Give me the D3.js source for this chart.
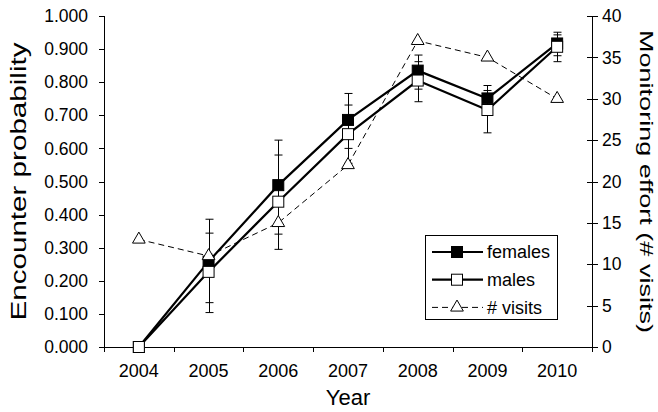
<!DOCTYPE html>
<html>
<head>
<meta charset="utf-8">
<script src="https://cdn.jsdelivr.net/npm/d3@7"></script>
<style>
  body { margin: 0; background: #fff; }
  svg { display: block; font-family: Arial, 'Liberation Sans', sans-serif; }
</style>
</head>
<body>
<svg id="chart" width="658" height="412"></svg>
<script>
// data
const years = ['2004', '2005', '2006', '2007', '2008', '2009', '2010']
const females = [0, 0.258, 0.489, 0.686, 0.835, 0.751, 0.917]
const femalesHi = [0, 0.386, 0.625, 0.766, 0.882, 0.790, 0.951]
const femalesLo = [0, 0.134, 0.341, 0.600, 0.779, 0.710, 0.880]
const males = [0, 0.227, 0.439, 0.643, 0.805, 0.716, 0.907]
const malesHi = [0, 0.344, 0.580, 0.731, 0.862, 0.775, 0.943]
const malesLo = [0, 0.104, 0.295, 0.555, 0.741, 0.647, 0.862]
const visits = [13, 11, 15, 22, 37, 35, 30]
const leftTicks = [0, 0.1, 0.2, 0.3, 0.4, 0.5, 0.6, 0.7, 0.8, 0.9, 1.0]
const rightTicks = [0, 5, 10, 15, 20, 25, 30, 35, 40]

const margin = { top: 16, right: 66, bottom: 65, left: 104 }
const width = 658
const height = 412

const svg = d3.select('#chart')

const x = d3.scaleBand().domain(years).range([margin.left, width - margin.right]).padding(0)
const cx = d => x(d) + x.bandwidth() / 2
const y = d3.scaleLinear().domain([0, 1]).range([height - margin.bottom, margin.top])
const y2 = d3.scaleLinear().domain([0, 40]).range([height - margin.bottom, margin.top])

const x0 = margin.left
const x1 = width - margin.right
const yb = height - margin.bottom

// axes
const axes = svg.append('g').attr('stroke', '#000').attr('stroke-width', 1)
axes.append('line').attr('x1', x0 + 0.5).attr('x2', x0 + 0.5).attr('y1', y(1)).attr('y2', yb)
axes.append('line').attr('x1', x1 + 0.5).attr('x2', x1 + 0.5).attr('y1', y2(40)).attr('y2', yb)
axes.append('line').attr('x1', x0).attr('x2', x1 + 1).attr('y1', yb + 0.5).attr('y2', yb + 0.5)

leftTicks.forEach(t => {
  axes.append('line').attr('x1', x0 - 5).attr('x2', x0).attr('y1', Math.round(y(t)) + 0.5).attr('y2', Math.round(y(t)) + 0.5)
})
rightTicks.forEach(t => {
  axes.append('line').attr('x1', x1 - 5).attr('x2', x1 + 6).attr('y1', Math.round(y2(t)) + 0.5).attr('y2', Math.round(y2(t)) + 0.5)
})
years.forEach(yr => {
  const xx = Math.round(x(yr)) + 0.5
  axes.append('line').attr('x1', xx).attr('x2', xx).attr('y1', yb).attr('y2', yb + 5)
})
axes.append('line').attr('x1', x1 + 0.5).attr('x2', x1 + 0.5).attr('y1', yb).attr('y2', yb + 5)

const labels = svg.append('g').attr('font-size', 17.5).attr('fill', '#000')
leftTicks.forEach(t => {
  labels.append('text').attr('x', x0 - 16).attr('y', y(t)).attr('dy', '0.35em')
    .attr('text-anchor', 'end').text(d3.format('.3f')(t))
})
rightTicks.forEach(t => {
  labels.append('text').attr('x', x1 + 10).attr('y', y2(t)).attr('dy', '0.35em')
    .attr('text-anchor', 'start').text(t)
})
years.forEach(yr => {
  labels.append('text').attr('x', cx(yr)).attr('y', yb + 30).attr('font-size', 18)
    .attr('text-anchor', 'middle').text(yr)
})

svg.append('text').attr('x', (x0 + x1) / 2).attr('y', 405).attr('text-anchor', 'middle')
  .attr('font-size', 22).text('Year')
svg.append('text').attr('transform', `translate(26,${(y(0) + y(1)) / 2}) rotate(-90)`)
  .attr('text-anchor', 'middle').attr('font-size', 22.5)
  .attr('textLength', 278).attr('lengthAdjust', 'spacingAndGlyphs').text('Encounter probability')
svg.append('text').attr('transform', `translate(640,${(y(0) + y(1)) / 2}) rotate(90)`)
  .attr('text-anchor', 'middle').attr('font-size', 19)
  .attr('textLength', 303).attr('lengthAdjust', 'spacingAndGlyphs').text('Monitoring effort (# visits)')

// error bars
function errorBars(hi, lo) {
  const g = svg.append('g').attr('stroke', '#000').attr('stroke-width', 1)
  years.forEach((yr, i) => {
    if (hi[i] === lo[i]) return
    const xx = Math.round(cx(yr)) + 0.5
    g.append('line').attr('x1', xx).attr('x2', xx).attr('y1', y(hi[i])).attr('y2', y(lo[i]))
    ;[hi[i], lo[i]].forEach(v => {
      g.append('line').attr('x1', xx - 4).attr('x2', xx + 4).attr('y1', y(v)).attr('y2', y(v))
    })
  })
}
errorBars(femalesHi, femalesLo)
errorBars(malesHi, malesLo)

const line = d3.line().x((d, i) => cx(years[i])).y(d => y(d))
const line2 = d3.line().x((d, i) => cx(years[i])).y(d => y2(d))

svg.append('path').datum(females).attr('fill', 'none').attr('stroke', '#000')
  .attr('stroke-width', 2.2).attr('d', line)
svg.append('path').datum(males).attr('fill', 'none').attr('stroke', '#000')
  .attr('stroke-width', 2.2).attr('d', line)

const sq = 11
function squares(data, fill) {
  svg.append('g').selectAll('rect').data(data).join('rect')
    .attr('x', (d, i) => cx(years[i]) - sq / 2)
    .attr('y', d => y(d) - sq / 2)
    .attr('width', sq).attr('height', sq)
    .attr('fill', fill).attr('stroke', '#000').attr('stroke-width', 1)
}
squares(females, '#000')
squares(males, '#fff')

svg.append('path').datum(visits).attr('fill', 'none').attr('stroke', '#000')
  .attr('stroke-width', 1).attr('stroke-dasharray', '6,4').attr('d', line2)

const tri = d3.symbol().type(d3.symbolTriangle).size(70)
svg.append('g').selectAll('path').data(visits).join('path')
  .attr('transform', (d, i) => `translate(${cx(years[i])},${y2(d)})`)
  .attr('d', tri).attr('fill', '#fff').attr('stroke', '#000').attr('stroke-width', 1)

// legend
const lg = svg.append('g')
lg.append('rect').attr('x', 425.5).attr('y', 235.5).attr('width', 132).attr('height', 84)
  .attr('fill', '#fff').attr('stroke', '#000')
const entries = [
  { name: 'females', fill: '#000', shape: 'sq', dash: null, w: 2.2 },
  { name: 'males', fill: '#fff', shape: 'sq', dash: null, w: 2.2 },
  { name: '# visits', fill: '#fff', shape: 'tri', dash: '6,4', w: 1 }
]
entries.forEach((e, i) => {
  const ly = 252 + i * 27.7
  lg.append('line').attr('x1', 432).attr('x2', 483).attr('y1', ly).attr('y2', ly)
    .attr('stroke', '#000').attr('stroke-width', e.w).attr('stroke-dasharray', e.dash)
  if (e.shape === 'sq') {
    lg.append('rect').attr('x', 457 - sq / 2).attr('y', ly - sq / 2).attr('width', sq).attr('height', sq)
      .attr('fill', e.fill).attr('stroke', '#000')
  } else {
    lg.append('path').attr('transform', `translate(457,${ly})`).attr('d', tri)
      .attr('fill', e.fill).attr('stroke', '#000')
  }
  lg.append('text').attr('x', 487).attr('y', ly).attr('dy', '0.35em').attr('font-size', 18).text(e.name)
})
</script>
</body>
</html>
